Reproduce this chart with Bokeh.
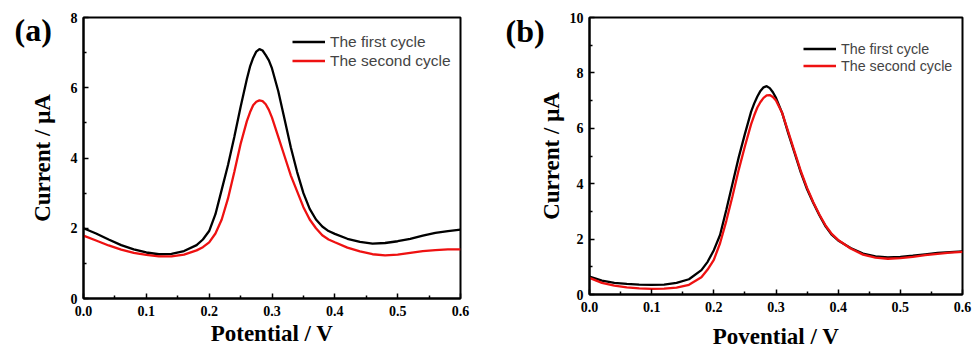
from bokeh.plotting import figure
from bokeh.layouts import row, column
from bokeh.models import (Range1d, FixedTicker, PrintfTickFormatter,
                          Legend, LegendItem)
from bokeh.embed import file_html
from bokeh.resources import INLINE

# ---------------- data ----------------
potential = [0.00, 0.02, 0.04, 0.06, 0.08, 0.10, 0.12, 0.14, 0.16, 0.18, 0.19,
             0.20, 0.21, 0.22, 0.23, 0.24, 0.25, 0.26, 0.265, 0.27, 0.275,
             0.28, 0.285, 0.29, 0.295, 0.30, 0.31, 0.32, 0.33, 0.34, 0.35,
             0.36, 0.37, 0.38, 0.39, 0.40, 0.42, 0.44, 0.46, 0.48, 0.50, 0.52,
             0.54, 0.56, 0.58, 0.60]

a_first = [2.00, 1.85, 1.68, 1.52, 1.40, 1.31, 1.26, 1.27, 1.35, 1.52, 1.68,
           1.92, 2.40, 3.10, 3.80, 4.60, 5.45, 6.25, 6.60, 6.85, 7.03,
           7.10, 7.06, 6.93, 6.78, 6.55, 5.90, 5.10, 4.30, 3.60, 3.00,
           2.55, 2.25, 2.05, 1.92, 1.84, 1.70, 1.61, 1.56, 1.58, 1.63, 1.70,
           1.79, 1.87, 1.92, 1.96]
a_second = [1.79, 1.65, 1.51, 1.39, 1.30, 1.24, 1.20, 1.20, 1.25, 1.37, 1.46,
            1.60, 1.85, 2.25, 2.85, 3.60, 4.40, 5.05, 5.30, 5.50, 5.60,
            5.64, 5.62, 5.53, 5.37, 5.15, 4.60, 4.05, 3.50, 3.05, 2.60,
            2.25, 2.00, 1.80, 1.68, 1.60, 1.45, 1.34, 1.26, 1.23, 1.25, 1.30,
            1.35, 1.38, 1.40, 1.40]

b_first = [0.65, 0.50, 0.42, 0.38, 0.36, 0.35, 0.36, 0.42, 0.55, 0.88, 1.18,
           1.60, 2.15, 3.05, 4.00, 4.95, 5.80, 6.60, 6.90, 7.15, 7.35,
           7.48, 7.52, 7.45, 7.30, 7.10, 6.55, 5.80, 5.10, 4.40, 3.80,
           3.30, 2.85, 2.45, 2.15, 1.95, 1.68, 1.48, 1.38, 1.34, 1.36, 1.40,
           1.45, 1.50, 1.53, 1.56]
b_second = [0.60, 0.42, 0.32, 0.26, 0.22, 0.20, 0.21, 0.25, 0.35, 0.62, 0.90,
            1.25, 1.85, 2.65, 3.55, 4.50, 5.35, 6.15, 6.47, 6.75, 6.95,
            7.10, 7.19, 7.20, 7.13, 7.00, 6.55, 5.85, 5.15, 4.45, 3.85,
            3.33, 2.88, 2.48, 2.18, 1.97, 1.66, 1.44, 1.33, 1.29, 1.31, 1.36,
            1.42, 1.47, 1.51, 1.54]

x_ticks = [0.0, 0.1, 0.2, 0.3, 0.4, 0.5, 0.6]
x_minor = [0.05, 0.15, 0.25, 0.35, 0.45, 0.55]
a_yticks = [0, 2, 4, 6, 8]
a_yminor = [1, 3, 5, 7]
b_yticks = [0, 2, 4, 6, 8, 10]
b_yminor = [1, 3, 5, 7, 9]

labels = ["The first cycle", "The second cycle"]

SERIF = "Liberation Serif"
SANS = "Liberation Sans"


def make_panel(width, height, ymax, yticks, yminor, first, second, xlabel,
               plabel, lab_offset, lab_standoff, bl, br, bt, bb,
               ylab_standoff, xlab_standoff, leg_loc, leg_font, leg_h):
    p = figure(width=width, height=height, output_backend="svg",
               toolbar_location=None, x_range=Range1d(0, 0.6),
               y_range=Range1d(0, ymax), min_border_left=bl,
               min_border_right=br, min_border_top=bt, min_border_bottom=bb)
    p.xgrid.visible = False
    p.ygrid.visible = False
    p.outline_line_color = "black"
    p.outline_line_width = 2
    p.background_fill_color = "white"
    p.border_fill_color = "white"

    # panel label "(a)" / "(b)" drawn as the figure title, shifted left
    p.title.text = plabel
    p.title.align = "left"
    p.title.offset = lab_offset
    p.title.standoff = lab_standoff
    p.title.vertical_align = "bottom"
    p.title.text_font = SERIF
    p.title.text_font_style = "bold"
    p.title.text_font_size = "32px"
    p.title.text_color = "black"

    p.xaxis.ticker = FixedTicker(ticks=x_ticks, minor_ticks=x_minor)
    p.yaxis.ticker = FixedTicker(ticks=yticks, minor_ticks=yminor)
    p.xaxis.formatter = PrintfTickFormatter(format="%.1f")
    p.yaxis.formatter = PrintfTickFormatter(format="%d")
    for ax in (p.xaxis, p.yaxis):
        ax.axis_line_width = 2
        ax.axis_line_color = "black"
        ax.major_tick_in = 5
        ax.major_tick_out = 0
        ax.minor_tick_in = 3
        ax.minor_tick_out = 0
        ax.major_tick_line_width = 1.5
        ax.minor_tick_line_width = 1.5
        ax.major_label_text_font = SERIF
        ax.major_label_text_font_style = "bold"
        ax.major_label_text_font_size = "14px"
        ax.major_label_text_color = "black"
        ax.axis_label_text_font = SERIF
        ax.axis_label_text_font_style = "bold"
        ax.axis_label_text_font_size = "23px"
        ax.axis_label_text_color = "black"
    p.xaxis.major_label_standoff = 7
    p.yaxis.major_label_standoff = 6
    p.xaxis.axis_label = xlabel
    p.yaxis.axis_label = "Current / μA"
    p.xaxis.axis_label_standoff = xlab_standoff
    p.yaxis.axis_label_standoff = ylab_standoff

    r1 = p.line(potential, first, line_color="black", line_width=2.3)
    r2 = p.line(potential, second, line_color="#ee1111", line_width=2.3)

    leg = Legend(items=[LegendItem(label=labels[0], renderers=[r1]),
                        LegendItem(label=labels[1], renderers=[r2])],
                 location=leg_loc, border_line_color=None,
                 background_fill_alpha=0, padding=0, margin=0, spacing=0,
                 glyph_width=33, glyph_height=leg_h, label_height=leg_h,
                 label_standoff=5, label_text_font=SANS,
                 label_text_font_size=leg_font)
    p.add_layout(leg)
    return p


pa = make_panel(480, 353, 8, a_yticks, a_yminor, a_first, a_second,
                "Potential / V", "(a)", -69, -60,
                83, 20, 17, 55, 13, 2, (209, 228), "15.5px", 19)
pb = make_panel(494, 353, 10, b_yticks, b_yminor, b_first, b_second,
                "Povential / V", "(b)", -84, -62,
                109, 12, 17, 59, 3, 9, (214, 220), "14.3px", 17)

layout = row(column(pa), column(pb), spacing=0)
open("out.html", "w").write(file_html(layout, INLINE))
